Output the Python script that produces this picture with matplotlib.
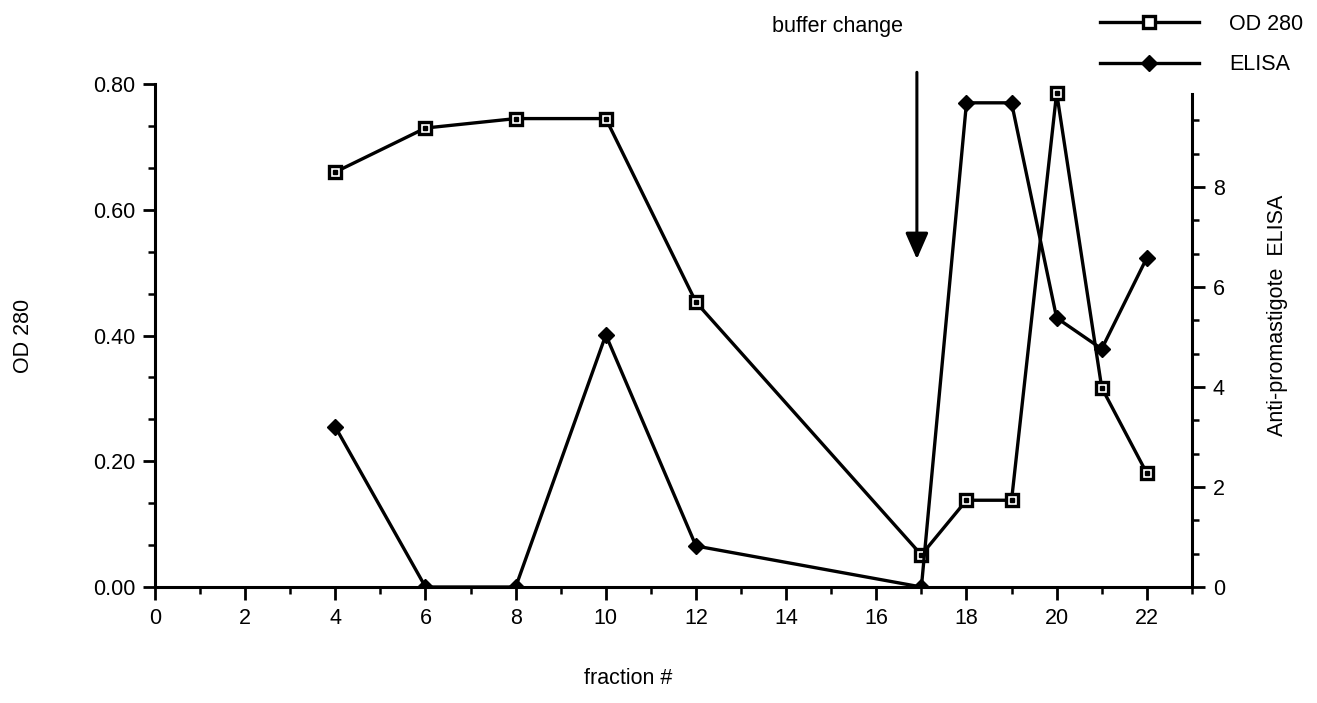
import numpy as np
import matplotlib
matplotlib.use("Agg")
from matplotlib import pyplot
from matplotlib.ticker import MultipleLocator, FixedLocator
from matplotlib.lines import Line2D

pyplot.rcParams['font.family'] = ['Liberation Sans', 'DejaVu Sans']

# fraction numbers and the two measured series
fractions = [4, 6, 8, 10, 12, 17, 18, 19, 20, 21, 22]
od280 = [0.66, 0.73, 0.745, 0.745, 0.453, 0.051, 0.138, 0.138, 0.786, 0.317, 0.181]
elisa = [3.2, 0.0, 0.0, 5.04, 0.82, 0.0, 9.68, 9.68, 5.38, 4.76, 6.58]

x_ticks = list(range(0, 23, 2))
od_ticks = [0.0, 0.2, 0.4, 0.6, 0.8]
elisa_ticks = [0, 2, 4, 6, 8]
elisa_top = 9.86

fs = 15.5

figure = pyplot.figure(figsize=(13.17, 7.03), dpi=100)
ax = figure.add_axes([0.1177, 0.165, 0.7873, 0.7155])
ax2 = ax.twinx()

lw = 2.4
ax.plot(fractions, od280, color='black', lw=lw, marker='s', ms=9,
        mfc='white', mec='black', mew=2.4, zorder=3)
ax.plot(fractions, od280, ls='none', marker='s', ms=2.2, color='black', zorder=4)
ax2.plot(fractions, elisa, color='black', lw=lw, marker='D', ms=8,
         mfc='black', mec='black', zorder=3)

ax.set_xlim(0, 23)
ax.set_ylim(0, 0.80)
ax2.set_ylim(0, 0.80 * 628.5 / 50)

ax.set_xticks(x_ticks)
ax.xaxis.set_minor_locator(MultipleLocator(1))
ax.set_yticks(od_ticks)
ax.set_yticklabels(['%.2f' % v for v in od_ticks])
ax.yaxis.set_minor_locator(MultipleLocator(0.2 / 3))
ax2.set_yticks(elisa_ticks)
ax2.yaxis.set_minor_locator(FixedLocator(np.arange(0, elisa_top, 2 / 3)))

for a in (ax, ax2):
    for s in a.spines.values():
        s.set_linewidth(2.2)
    a.spines['top'].set_visible(False)
ax.spines['right'].set_visible(False)
ax2.spines['left'].set_visible(False)
ax2.spines['bottom'].set_visible(False)
ax2.spines['right'].set_bounds(0, elisa_top)

ax.tick_params(axis='both', which='major', length=9, width=2, labelsize=fs, direction='out')
ax.tick_params(axis='both', which='minor', length=5, width=1.8, direction='out')
ax.tick_params(axis='x', pad=6)
ax.tick_params(axis='y', pad=5)
ax2.tick_params(axis='y', which='major', length=9, width=2, labelsize=fs, pad=6)
ax2.tick_params(axis='y', which='minor', length=5, width=1.8)

ax.set_ylabel('OD 280', fontsize=fs)
ax.yaxis.set_label_coords(-0.117, 0.5)
ax2.set_ylabel('Anti-promastigote  ELISA', fontsize=fs)
ax2.yaxis.set_label_coords(1.072, 0.54)
figure.text(0.477, 0.035, 'fraction #', ha='center', va='center', fontsize=fs)

ax.annotate('', xy=(16.9, 0.517), xytext=(16.9, 0.823), annotation_clip=False,
            arrowprops=dict(arrowstyle='-|>,head_length=1.6,head_width=0.7',
                            color='black', lw=2.2))
figure.text(0.636, 0.962, 'buffer change', ha='center', va='center', fontsize=fs)

handles = [Line2D([], [], color='black', lw=lw, marker='s', ms=9, mfc='white', mew=2.4),
           Line2D([], [], color='black', lw=lw, marker='D', ms=8)]
figure.legend(handles, ['OD 280', 'ELISA'], loc='upper right', bbox_to_anchor=(1.0, 1.0),
              frameon=False, fontsize=fs, handlelength=4.6, labelspacing=0.9,
              borderaxespad=0.25, handletextpad=1.4)

pyplot.savefig("out.png", format="png", dpi=100)
